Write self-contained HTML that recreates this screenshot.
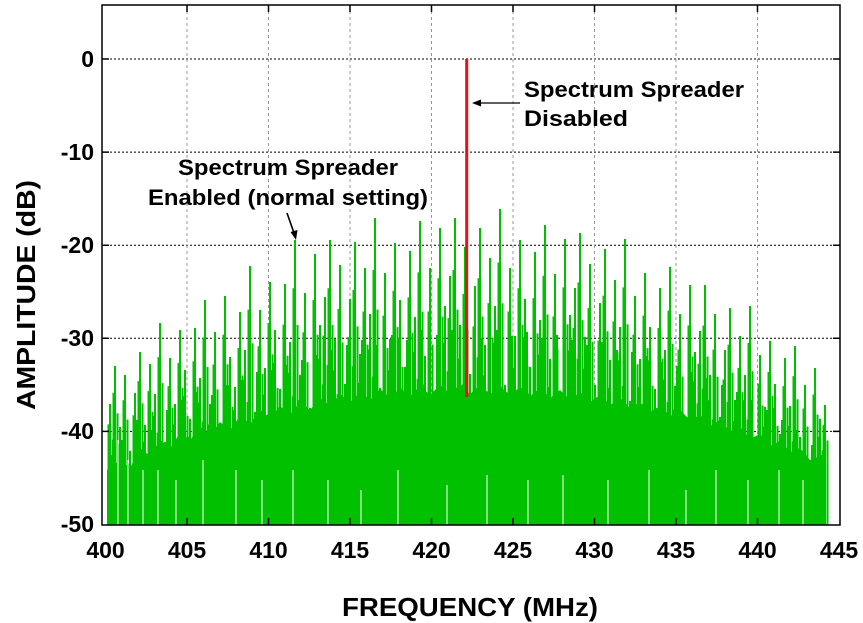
<!DOCTYPE html>
<html><head><meta charset="utf-8"><style>
html,body{margin:0;padding:0;background:#fff;}
svg{display:block;font-family:"Liberation Sans",Arial,sans-serif;font-weight:bold;}
</style></head><body>
<svg width="863" height="623" viewBox="0 0 863 623" xmlns="http://www.w3.org/2000/svg" xmlns:xlink="http://www.w3.org/1999/xlink">
<g stroke="#000" stroke-width="1" stroke-dasharray="2,2">
<line x1="102" x2="840" y1="59" y2="59"/><line x1="102" x2="840" y1="152.1" y2="152.1"/><line x1="102" x2="840" y1="245.2" y2="245.2"/><line x1="102" x2="840" y1="338.3" y2="338.3"/><line x1="102" x2="840" y1="431.4" y2="431.4"/>
</g>
<g stroke="#999" stroke-width="1" stroke-dasharray="3,3">
<line x1="187" x2="187" y1="5" y2="525"/><line x1="268.5" x2="268.5" y1="5" y2="525"/><line x1="350" x2="350" y1="5" y2="525"/><line x1="431.5" x2="431.5" y1="5" y2="525"/><line x1="513" x2="513" y1="5" y2="525"/><line x1="594.5" x2="594.5" y1="5" y2="525"/><line x1="676" x2="676" y1="5" y2="525"/><line x1="757.5" x2="757.5" y1="5" y2="525"/>
</g>
<rect x="107" y="500" width="719" height="25" fill="#00c000"/>
<polygon transform="translate(0,-10)" fill="#00c000" points="107,525 107,480 120,470 130,478 140,458 150,466 160,450 170,458 180,443 190,450 200,437 210,445 220,432 230,440 240,426 250,434 260,420 270,428 280,416 290,424 300,412 310,420 320,408 330,416 340,404 350,412 360,402 370,410 380,399 390,408 400,398 410,406 420,396 430,405 440,395 450,404 460,394 470,404 480,395 490,404 500,396 510,405 520,397 530,406 540,398 550,408 560,400 570,410 580,402 590,412 600,405 610,415 620,408 630,418 640,412 650,422 660,416 670,426 680,420 690,430 700,425 710,436 720,430 730,442 740,437 750,449 760,444 770,456 780,451 790,462 800,458 810,470 820,466 826,476 826,525"/>
<path id="sp" stroke="#00c000" stroke-width="2" fill="none" d="M110 404V525M115 366V525M120 427V525M125 375V525M130 451V525M135 393V525M140 352V525M145 425V525M150 364V525M155 394V525M160 323V525M165 442V525M170 358V525M175 404V525M180 330V525M185 370V525M190 419V525M195 328V525M200 378V525M205 300V525M210 404V525M215 332V525M220 431V525M225 296V525M230 357V525M235 387V525M240 312V525M245 350V525M250 266V525M255 412V525M260 310V525M265 368V525M270 282V525M275 330V525M280 389V525M285 284V525M290 342V525M295 240V525M300 375V525M305 293V525M310 408V525M315 254V525M320 325V525M325 297V525M330 240V525M335 339V525M340 265V525M345 384V525M350 299V525M355 242V525M360 354V525M365 268V525M370 314V525M375 218V525M380 388V525M385 273V525M390 339V525M395 243V525M400 300V525M405 367V525M410 251V525M415 317V525M420 221V525M425 356V525M430 268V525M435 394V525M440 228V525M445 306V525M450 276V525M455 218V525M460 325V525M465 247V525M470 374V525M475 286V525M480 228V525M485 345V525M490 258V525M495 306V525M500 209V525M505 385V525M510 268V525M515 336V525M520 240V525M525 299V525M530 367V525M535 252V525M540 320V525M545 225V525M550 359V525M555 274V525M560 399V525M565 239V525M570 315V525M575 288V525M580 233V525M585 337V525M590 264V525M595 385V525M600 303V525M605 249V525M610 360V525M615 280V525M620 327V525M625 239V525M630 401V525M635 296V525M640 359V525M645 273V525M650 327V525M655 389V525M660 288V525M665 350V525M670 267V525M675 386V525M680 314V525M685 423V525M690 285V525M695 352V525M700 331V525M705 285V525M710 375V525M715 314V525M720 417V525M725 350V525M730 308V525M735 400V525M740 336V525M745 375V525M750 306V525M755 438V525M760 355V525M765 407V525M770 341V525M775 384V525M780 434V525M785 358V525M790 406V525M795 346V525M800 437V525M805 385V525M810 466V525M815 368V525M820 419V525M825 405V525"/>
<use xlink:href="#sp" href="#sp" transform="translate(2.5,157) scale(1,0.7)"/>
<use xlink:href="#sp" href="#sp" transform="translate(-1.5,89) scale(1,0.83)"/>
<path stroke="#00c000" stroke-width="2" fill="none" d="M112 455V525M122 440V525M137 420V525M152 430V525M167 410V525M182 400V525M197 392V525M212 395V525M227 385V525M242 380V525M257 372V525M272 370V525M287 365V525M302 360V525M317 355V525M332 350V525M347 345V525M362 340V525M377 345V525M392 335V525M407 340V525M422 330V525M437 335V525M452 330V525M482 338V525M497 330V525M512 336V525M527 332V525M542 338V525M557 335V525M572 340V525M587 345V525M602 342V525M617 350V525M632 352V525M647 356V525M662 362V525M677 366V525M692 372V525M707 378V525M722 385V525M737 392V525M752 400V525M767 410V525M782 420V525M797 430V525M812 445V525M822 455V525"/>
<path stroke="#fff" stroke-width="1" fill="none" d="M118 440V525M128 460V525M143 470V525M158 470V525M176 480V525M203 460V525M236 470V525M262 480V525M293 470V525M328 480V525M361 490V525M398 470V525M447 485V525M487 475V525M528 480V525M563 475V525M608 480V525M649 470V525M686 490V525M716 470V525M748 480V525M779 470V525M803 480V525"/>
<line x1="466.7" y1="59" x2="466.7" y2="397" stroke="#e8101a" stroke-width="3"/>
<rect x="102" y="5" width="738" height="520" fill="none" stroke="#000" stroke-width="1.5"/>
<g stroke="#000" stroke-width="1.5">
<path d="M187 525v-7M268.5 525v-7M350 525v-7M431.5 525v-7M513 525v-7M594.5 525v-7M676 525v-7M757.5 525v-7M187 5v7M268.5 5v7M350 5v7M431.5 5v7M513 5v7M594.5 5v7M676 5v7M757.5 5v7"/>
<path d="M102 59h7M102 152.1h7M102 245.2h7M102 338.3h7M102 431.4h7M840 59h-7M840 152.1h-7M840 245.2h-7M840 338.3h-7M840 431.4h-7"/>
</g>
<g font-size="22" fill="#000">
<text x="524" y="97" textLength="220" lengthAdjust="spacingAndGlyphs">Spectrum Spreader</text>
<text x="524" y="126" textLength="104" lengthAdjust="spacingAndGlyphs">Disabled</text>
<text x="178" y="175" textLength="220" lengthAdjust="spacingAndGlyphs">Spectrum Spreader</text>
<text x="148" y="205" textLength="280" lengthAdjust="spacingAndGlyphs">Enabled (normal setting)</text>
</g>
<line x1="520" y1="103" x2="478" y2="103" stroke="#000" stroke-width="1.3"/>
<polygon points="472,103 481,99.5 481,106.5" fill="#000"/>
<line x1="287" y1="213" x2="294" y2="233" stroke="#000" stroke-width="1.6"/>
<polygon points="296,240 290.5,232 297.5,230" fill="#000"/>
<g font-size="23" fill="#000" text-anchor="middle">
<text x="105.5" y="558">400</text><text x="187" y="558">405</text><text x="268.5" y="558">410</text><text x="350" y="558">415</text><text x="431.5" y="558">420</text><text x="513" y="558">425</text><text x="594.5" y="558">430</text><text x="676" y="558">435</text><text x="757.5" y="558">440</text><text x="839" y="558">445</text>
</g>
<g font-size="23" fill="#000" text-anchor="end">
<text x="94" y="67">0</text><text x="94" y="160">-10</text><text x="94" y="253">-20</text><text x="94" y="346">-30</text><text x="94" y="439">-40</text><text x="94" y="532">-50</text>
</g>
<text x="470" y="616" font-size="26" text-anchor="middle" textLength="256" lengthAdjust="spacingAndGlyphs">FREQUENCY (MHz)</text>
<text transform="translate(35,295) rotate(-90)" font-size="26" text-anchor="middle" textLength="230" lengthAdjust="spacingAndGlyphs">AMPLITUDE (dB)</text>
</svg>
</body></html>
